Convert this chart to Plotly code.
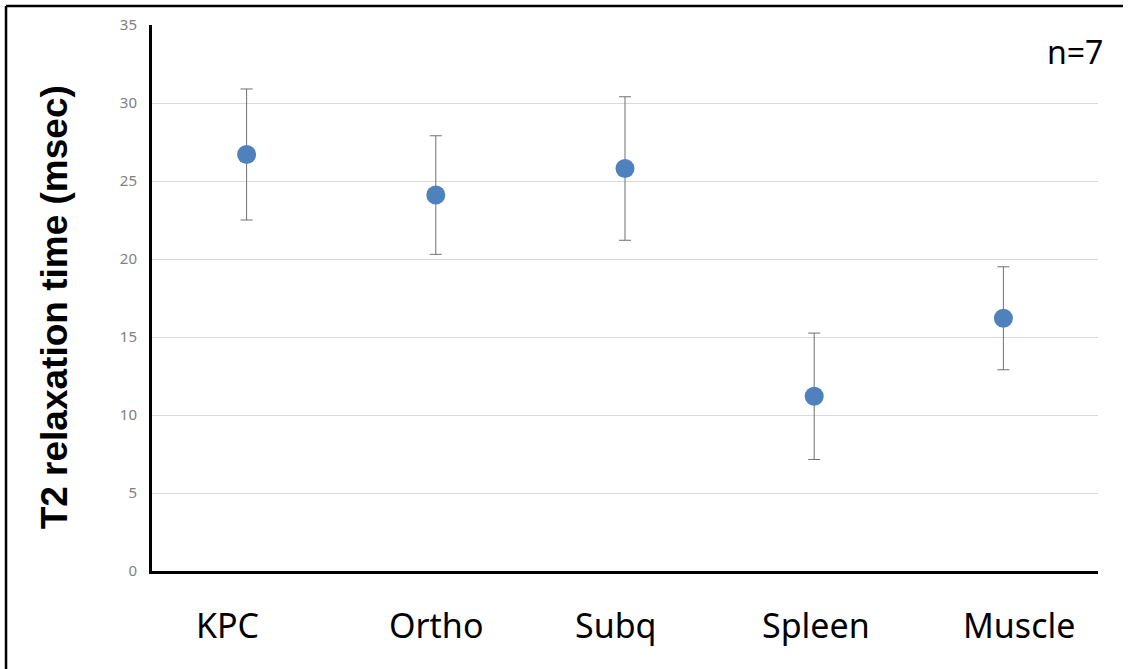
import plotly.graph_objects as go

# T2 relaxation time per tissue (mean ± SD), n=7
tissues = ["KPC", "Ortho", "Subq", "Spleen", "Muscle"]
t2_mean = [26.7, 24.1, 25.8, 11.2, 16.2]
t2_sd = [4.2, 3.8, 4.6, 4.05, 3.3]
y_ticks = [0, 5, 10, 15, 20, 25, 30, 35]

# horizontal nudges (px) for the category captions under the axis
caption_nudge = [-19, 0, -9, 2, 16]

fig = go.Figure()
fig.add_trace(go.Scatter(
    x=tissues,
    y=t2_mean,
    mode="markers",
    marker=dict(color="#4F81BD", size=19, line=dict(width=0)),
    error_y=dict(type="data", array=t2_sd, visible=True,
                 color="#707070", thickness=1, width=6),
    showlegend=False,
))

annotations = [
    dict(text=name, x=name, xref="x", yref="paper", y=0,
         xanchor="center", yanchor="top", xshift=dx, yshift=-29,
         showarrow=False,
         font=dict(family="Noto Sans", size=34, color="black"))
    for name, dx in zip(tissues, caption_nudge)
]
annotations += [
    dict(text="<b>T2 relaxation time (msec)</b>", textangle=-90,
         xref="paper", yref="paper", x=-0.1035, y=0.483,
         xanchor="center", yanchor="middle", showarrow=False,
         font=dict(family="Liberation Sans", size=37, color="black")),
    dict(text="n=7", xref="paper", yref="paper", x=1.0074, y=0.951,
         xanchor="right", yanchor="middle", showarrow=False,
         font=dict(family="Noto Sans", size=32, color="black")),
]

fig.update_layout(
    width=1128, height=669,
    margin=dict(l=152, r=30, t=25, b=98),
    paper_bgcolor="white", plot_bgcolor="white",
    xaxis=dict(
        range=[-0.5, 4.5],
        showgrid=False,
        showline=True, linecolor="black", linewidth=3,
        ticks="", showticklabels=False,
        zeroline=False,
    ),
    yaxis=dict(
        range=[0, 35],
        tickvals=y_ticks,
        showgrid=True, gridcolor="#D9D9D9", gridwidth=1,
        showline=True, linecolor="black", linewidth=3,
        ticks="", ticklabelstandoff=9,
        tickfont=dict(family="Noto Sans", size=15, color="#7F7F7F"),
        zeroline=False,
    ),
    annotations=annotations,
    shapes=[
        # outer frame: top and left edges
        dict(type="line", xref="paper", yref="paper",
             x0=-0.1543, x1=1.0264, y0=1.0349, y1=1.0349,
             line=dict(color="black", width=2.5)),
        dict(type="line", xref="paper", yref="paper",
             x0=-0.1543, x1=-0.1543, y0=-0.2, y1=1.0349,
             line=dict(color="black", width=2.5)),
    ],
)

fig.write_html("out.html")
